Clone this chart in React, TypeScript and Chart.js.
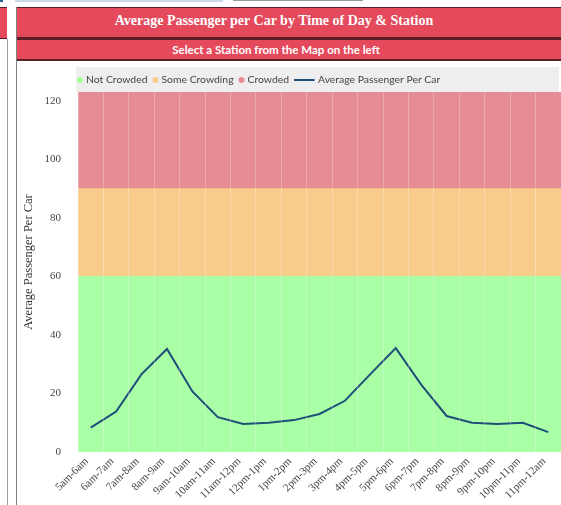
import React, { useEffect, useRef } from 'react';
import { Chart, registerables } from 'chart.js';

Chart.register(...registerables);

const timeSlots = [
  '5am-6am', '6am-7am', '7am-8am', '8am-9am', '9am-10am', '10am-11am', '11am-12pm',
  '12pm-1pm', '1pm-2pm', '2pm-3pm', '3pm-4pm', '4pm-5pm', '5pm-6pm', '6pm-7pm',
  '7pm-8pm', '8pm-9pm', '9pm-10pm', '10pm-11pm', '11pm-12am',
];
const avgPassengers = [8.3, 13.8, 26.6, 35.2, 20.7, 11.9, 9.6, 10.0, 10.9, 13.0, 17.5, 26.6, 35.5, 23.0, 12.3, 10.0, 9.6, 10.0, 6.8];
const notCrowdedBand = [60, 60, 60, 60, 60, 60, 60, 60, 60, 60, 60, 60, 60, 60, 60, 60, 60, 60, 60];
const someCrowdingBand = [30, 30, 30, 30, 30, 30, 30, 30, 30, 30, 30, 30, 30, 30, 30, 30, 30, 30, 30];
const crowdedBand = [33, 33, 33, 33, 33, 33, 33, 33, 33, 33, 33, 33, 33, 33, 33, 33, 33, 33, 33];
const yTickValues = [0, 20, 40, 60, 80, 100, 120];

const RED = '#e4495c';
const DARK = '#5a1f27';

const legendPlugin = {
  id: 'boxLegend',
  afterDraw(chart: any) {
    const ctx = chart.ctx;
    const area = chart.chartArea;
    ctx.save();
    ctx.fillStyle = '#eeeeee';
    ctx.fillRect(area.left - 2, 5, area.right - area.left + 0, area.top - 5);
    ctx.font = '10.4px Lato';
    ctx.textBaseline = 'middle';
    let x = area.left - 1;
    const y = 18;
    chart.data.datasets.forEach((ds: any) => {
      if (ds.type === 'line') {
        ctx.strokeStyle = ds.borderColor;
        ctx.lineWidth = 2;
        ctx.beginPath();
        ctx.moveTo(x, y);
        ctx.lineTo(x + 20.5, y);
        ctx.stroke();
        x += 24;
      } else {
        ctx.fillStyle = ds.backgroundColor;
        ctx.beginPath();
        ctx.arc(x + 3, y, 3, 0, Math.PI * 2);
        ctx.fill();
        x += 9;
      }
      ctx.fillStyle = '#444444';
      ctx.fillText(ds.label, x, y);
      x += ctx.measureText(ds.label).width + 5;
    });
    ctx.restore();
  },
};

const yTitlePlugin = {
  id: 'yTitle',
  afterDraw(chart: any) {
    const ctx = chart.ctx;
    ctx.save();
    ctx.translate(11.5, 200);
    ctx.rotate(-Math.PI / 2);
    ctx.font = '12.5px "Liberation Serif"';
    ctx.fillStyle = '#333333';
    ctx.textAlign = 'center';
    ctx.textBaseline = 'middle';
    ctx.fillText('Average Passenger Per Car', 0, 0);
    ctx.restore();
  },
};

function ChartCanvas() {
  const ref = useRef<HTMLCanvasElement | null>(null);
  useEffect(() => {
    if (!ref.current) return;
    const chart = new Chart(ref.current, {
      type: 'bar',
      data: {
        labels: timeSlots,
        datasets: [
          { type: 'bar', label: 'Not Crowded', data: notCrowdedBand, backgroundColor: '#aaffa6', borderWidth: 0, order: 1, stack: 'bands' },
          { type: 'bar', label: 'Some Crowding', data: someCrowdingBand, backgroundColor: '#f8cd8b', borderWidth: 0, order: 1, stack: 'bands' },
          { type: 'bar', label: 'Crowded', data: crowdedBand, backgroundColor: '#e68c94', borderWidth: 0, order: 1, stack: 'bands' },
          { type: 'line', label: 'Average Passenger Per Car', data: avgPassengers, borderColor: '#1f4e79', borderWidth: 2, pointRadius: 0, tension: 0, fill: false, order: 0, stack: 'line' } as any,
        ],
      },
      options: {
        animation: false,
        responsive: false,
        events: [],
        layout: { padding: { top: 30, left: 0, right: 0, bottom: 0 } },
        datasets: { bar: { barPercentage: 1, categoryPercentage: 1 } },
        plugins: { legend: { display: false }, tooltip: { enabled: false } },
        scales: {
          x: {
            stacked: true,
            grid: { display: true, drawTicks: false, color: 'rgba(255,255,255,0.25)', z: 1, offset: true },
            border: { display: false },
            ticks: {
              autoSkip: false,
              maxRotation: 45,
              minRotation: 45,
              padding: 3,
              labelOffset: -4,
              color: '#444444',
              font: { family: '"Liberation Serif"', size: 11 },
            },
            afterFit: (s: any) => { s.height = 53; },
          },
          y: {
            stacked: true,
            min: 0,
            max: notCrowdedBand[0] + someCrowdingBand[0] + crowdedBand[0],
            grid: { display: false, drawTicks: false },
            border: { display: false },
            ticks: {
              padding: 17,
              color: '#444444',
              font: { family: '"Liberation Serif"', size: 11 },
            },
            afterBuildTicks: (s: any) => { s.ticks = yTickValues.map((v) => ({ value: v })); },
            afterFit: (s: any) => { s.width = 61; },
          },
        },
      },
      plugins: [legendPlugin, yTitlePlugin],
    });
    return () => chart.destroy();
  }, []);
  return <canvas ref={ref} width={544} height={443} style={{ position: 'absolute', left: 17, top: 62, width: 544, height: 443 }} />;
}

export default function App() {
  return (
    <div style={{ position: 'fixed', left: 0, top: 0, width: 561, height: 505, overflow: 'hidden', background: '#ffffff' }}>
      {/* top fragments */}
      <div style={{ position: 'absolute', left: 0, top: 0, width: 3, height: 2, background: '#2e6590' }} />
      <div style={{ position: 'absolute', left: 15, top: 0, width: 208, height: 2, background: '#c8dae8' }} />
      <div style={{ position: 'absolute', left: 233, top: 0, width: 130, height: 1, background: '#9a9a9a' }} />
      {/* left panel */}
      <div style={{ position: 'absolute', left: 0, top: 7, width: 7, height: 30, background: RED, borderTop: `1px solid ${DARK}`, borderBottom: `1px solid ${DARK}` }} />
      <div style={{ position: 'absolute', left: 7, top: 39, width: 1, height: 466, background: '#a0a0a0' }} />
      {/* main panel border */}
      <div style={{ position: 'absolute', left: 16, top: 7, width: 1, height: 498, background: '#808080' }} />
      {/* title bar */}
      <div style={{ position: 'absolute', left: 17, top: 7, width: 560, height: 30, background: RED, borderTop: `1px solid ${DARK}` }} />
      <div style={{ position: 'absolute', left: 17, top: 37, width: 560, height: 3, background: DARK }} />
      <div style={{ position: 'absolute', left: 17, top: 40, width: 560, height: 19, background: RED }} />
      <div style={{ position: 'absolute', left: 17, top: 59, width: 560, height: 2, background: DARK }} />
      <div style={{ position: 'absolute', left: 17, top: 8, width: 514, height: 26, lineHeight: '26px', textAlign: 'center', color: '#ffffff', fontFamily: '"Liberation Serif"', fontWeight: 'bold', fontSize: 14, whiteSpace: 'nowrap' }}>
        Average Passenger per Car by Time of Day &amp; Station
      </div>
      <div style={{ position: 'absolute', left: 17, top: 40, width: 518, height: 19, lineHeight: '19px', textAlign: 'center', color: '#ffffff', fontFamily: 'Lato', fontWeight: 'bold', fontSize: 11.5, whiteSpace: 'nowrap' }}>
        Select a Station from the Map on the left
      </div>
      <ChartCanvas />
    </div>
  );
}
